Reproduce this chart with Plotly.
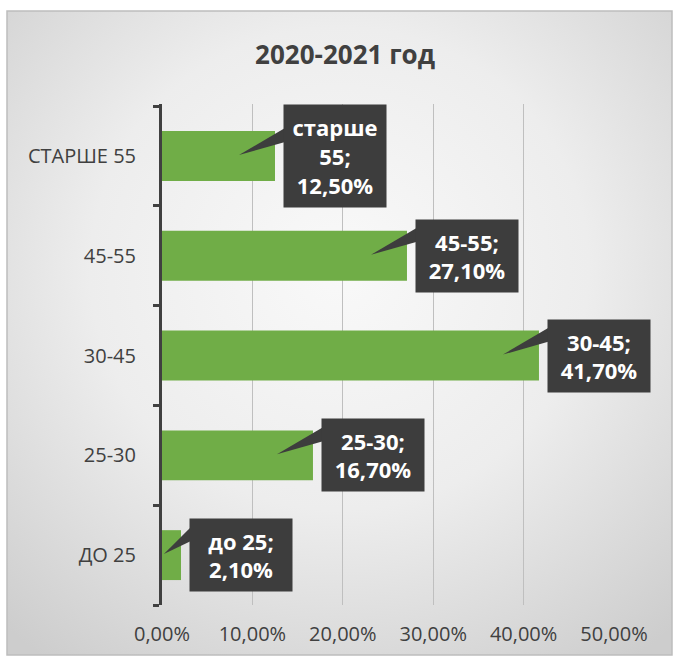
import base64
import plotly.graph_objects as go

# data
categories = ["ДО 25", "25-30", "30-45", "45-55", "СТАРШЕ 55"]
values = [0.021, 0.167, 0.417, 0.271, 0.125]
label_names = ["до 25;", "25-30;", "30-45;", "45-55;", "старше<br>55;"]
x_ticks = [0, 0.1, 0.2, 0.3, 0.4, 0.5]

W, H = 677, 660
ML, MR, MT, MB = 162, 63, 104, 55
PW, PH = W - ML - MR, H - MT - MB
BAR_COLOR = "#70ad47"
TEXT_COLOR = "#404040"
BOX_COLOR = "#3d3d3d"
FONT = "'Open Sans', sans-serif"


def fmt_pct(v):
    return f"{v * 100:.2f}%".replace(".", ",")


# radial gray background behind the whole chart area
svg = (
    "<svg xmlns='http://www.w3.org/2000/svg' width='665' height='644' preserveAspectRatio='none'>"
    "<defs><radialGradient id='g' cx='50%' cy='40%' r='75%'>"
    "<stop offset='0' stop-color='#f9f9f9'/><stop offset='0.5' stop-color='#ededed'/>"
    "<stop offset='1' stop-color='#cdcdcd'/></radialGradient></defs>"
    "<rect width='100%' height='100%' fill='url(#g)'/></svg>"
)
bg_src = "data:image/svg+xml;base64," + base64.b64encode(svg.encode()).decode()

# outer frame in pixels -> paper coords
fx0, fx1, fy0, fy1 = 7, 672, 11, 655
px0 = (fx0 - ML) / PW
px1 = (fx1 - ML) / PW
py_top = (H - MB - fy0) / PH
py_bot = (H - MB - fy1) / PH

fig = go.Figure()

fig.add_trace(
    go.Bar(
        x=values,
        y=categories,
        orientation="h",
        marker=dict(color=BAR_COLOR, line=dict(width=0)),
        hoverinfo="skip",
    )
)

px_per_unit = PW / (x_ticks[-1] - x_ticks[0])
shapes = [
    dict(
        type="rect", xref="paper", yref="paper",
        x0=px0, x1=px1, y0=py_bot, y1=py_top,
        line=dict(color="#bdbdbd", width=1.5), fillcolor="rgba(0,0,0,0)",
        layer="below",
    )
]
annotations = []
for i, (cat, v, name) in enumerate(zip(categories, values, label_names)):
    gap = 8
    tip = -min(36, v * px_per_unit * 0.9)
    lines = name.split("<br>") + [fmt_pct(v)]
    longest = max(len(s) for s in lines)
    # callout pointer
    shapes.append(
        dict(
            type="path",
            xref="x", yref="y",
            xsizemode="pixel", ysizemode="pixel",
            xanchor=v, yanchor=i,
            path=f"M {gap + 2} 14 L {tip} 1 L {gap + 2} 28 Z",
            fillcolor=BOX_COLOR,
            line=dict(width=0),
            layer="above",
        )
    )
    annotations.append(
        dict(
            x=v, y=cat, xref="x", yref="y",
            xanchor="left", yanchor="middle", xshift=gap,
            text="<b>" + "<br>".join(lines) + "</b>",
            showarrow=False,
            font=dict(family=FONT, size=22, color="white"),
            bgcolor=BOX_COLOR,
            borderpad=6,
            width=13 * longest + 12,
            height=len(lines) * 30,
            align="center",
        )
    )

fig.update_layout(
    width=W,
    height=H,
    margin=dict(l=ML, r=MR, t=MT, b=MB),
    paper_bgcolor="white",
    plot_bgcolor="rgba(0,0,0,0)",
    separators=", ",
    showlegend=False,
    bargap=0.5,
    title=dict(
        text="<b>2020-2021 год</b>",
        x=(345 - ML) / PW, xref="paper", xanchor="center",
        y=1 - 55 / H, yanchor="middle",
        font=dict(family=FONT, size=26, color=TEXT_COLOR),
    ),
    xaxis=dict(
        range=[x_ticks[0], x_ticks[-1]],
        tickvals=x_ticks,
        tickformat=".2%",
        showgrid=True,
        gridcolor="#bfbfbf",
        gridwidth=1,
        zeroline=False,
        showline=False,
        ticks="outside",
        ticklen=11,
        tickcolor="rgba(0,0,0,0)",
        tickfont=dict(family=FONT, size=20, color=TEXT_COLOR),
        fixedrange=True,
    ),
    yaxis=dict(
        type="category",
        categoryorder="array",
        categoryarray=categories,
        showline=True,
        linecolor=TEXT_COLOR,
        linewidth=3,
        ticks="outside",
        tickson="boundaries",
        ticklen=6,
        tickwidth=3,
        tickcolor=TEXT_COLOR,
        ticklabelstandoff=19,
        showgrid=False,
        tickfont=dict(family=FONT, size=20, color=TEXT_COLOR),
        fixedrange=True,
    ),
    shapes=shapes,
    annotations=annotations,
    images=[
        dict(
            source=bg_src, xref="paper", yref="paper",
            x=px0, y=py_top, sizex=px1 - px0, sizey=py_top - py_bot,
            xanchor="left", yanchor="top", sizing="stretch", layer="below",
        )
    ],
)

fig.write_html(
    "out.html",
    config={"displayModeBar": False},
    post_script="document.body.style.margin='0';",
)
